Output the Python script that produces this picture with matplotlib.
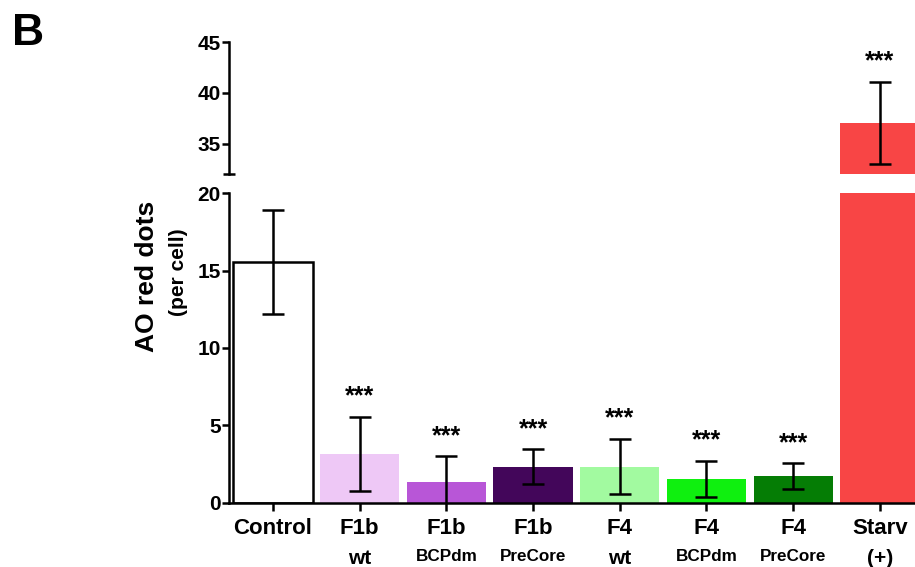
import numpy as np
import matplotlib.pyplot as plt

plt.rcParams['font.family'] = ['Liberation Sans', 'DejaVu Sans']
plt.rcParams['font.weight'] = 'bold'

# ── Data ─────────────────────────────────────────────────────────────────────
groups    = ['Control', 'F1b', 'F1b', 'F1b', 'F4', 'F4', 'F4', 'Starv']
subgroups = ['', 'wt', 'BCPdm', 'PreCore', 'wt', 'BCPdm', 'PreCore', '(+)']
means     = [15.55, 3.15, 1.38, 2.35, 2.35, 1.55, 1.75, 37.05]
errs      = [3.35, 2.4, 1.62, 1.12, 1.8, 1.15, 0.82, 4.05]
signif    = ['', '***', '***', '***', '***', '***', '***', '***']
colors    = ['#FFFFFF', '#EEC8F6', '#B856D7', '#43065A',
             '#A2FAA0', '#0FF00F', '#057D05', '#F84545']

sub_sizes = {'wt': 15, '(+)': 15, 'BCPdm': 12.3, 'PreCore': 12.3}

# ── Figure ───────────────────────────────────────────────────────────────────
fig = plt.figure(figsize=(9.15, 5.67), dpi=100, facecolor='white')
ax_lo = fig.add_axes([0.2503, 0.1129, 0.7497, 0.5467])
ax_hi = fig.add_axes([0.2503, 0.6931, 0.7497, 0.2328])

x = np.arange(len(groups))
lw = 1.8

for ax in (ax_lo, ax_hi):
    for i in x:
        ec = 'black' if i == 0 else colors[i]
        ax.bar(i, means[i], width=0.915, color=colors[i], edgecolor=ec,
               linewidth=lw if i == 0 else 0, zorder=2)
    ax.errorbar(x, means, yerr=errs, fmt='none', ecolor='black',
                elinewidth=lw, capsize=8, capthick=lw, zorder=3)
    ax.set_xlim(-0.507, 7.405)
    for s in ('top', 'right'):
        ax.spines[s].set_visible(False)
    ax.spines['left'].set_linewidth(lw)
    ax.tick_params(axis='y', length=5, width=lw, labelsize=15, pad=1)

# Lower segment
ax_lo.set_ylim(0, 20)
ax_lo.set_yticks([0, 5, 10, 15, 20])
ax_lo.spines['bottom'].set_linewidth(lw)
ax_lo.set_xticks(x)
ax_lo.set_xticklabels(groups, fontsize=16, fontweight='bold')
ax_lo.tick_params(axis='x', length=6, width=lw, pad=5)
for i in x:
    if subgroups[i]:
        ax_lo.annotate(subgroups[i], xy=(i, 0),
                       xycoords=('data', 'axes fraction'),
                       xytext=(0, -33), textcoords='offset points',
                       ha='center', va='top', fontweight='bold',
                       fontsize=sub_sizes[subgroups[i]])

# Upper segment
ax_hi.set_ylim(32, 45)
ax_hi.set_yticks([35, 40, 45])
ax_hi.spines['bottom'].set_visible(False)
ax_hi.set_xticks([])
# end cap of the upper axis segment (break mark)
ax_hi.plot([0], [32], marker='_', markersize=9, mew=lw, color='black',
           transform=ax_hi.get_yaxis_transform(), clip_on=False)

# Significance stars
for i in x:
    if not signif[i]:
        continue
    top = means[i] + errs[i]
    ax = ax_hi if top > 20 else ax_lo
    ax.annotate(signif[i], xy=(i, top), xytext=(0, 6),
                textcoords='offset points', ha='center', va='bottom',
                fontsize=18, fontweight='bold')

# Axis label and panel letter
fig.text(0.161, 0.513, 'AO red dots', rotation=90, ha='center', va='center',
         fontsize=19, fontweight='bold')
fig.text(0.195, 0.52, '(per cell)', rotation=90, ha='center', va='center',
         fontsize=15, fontweight='bold')
fig.text(0.013, 0.921, 'B', ha='left', va='baseline',
         fontsize=32, fontweight='bold')

plt.savefig('out.png', dpi=100, facecolor='white')
plt.close()
